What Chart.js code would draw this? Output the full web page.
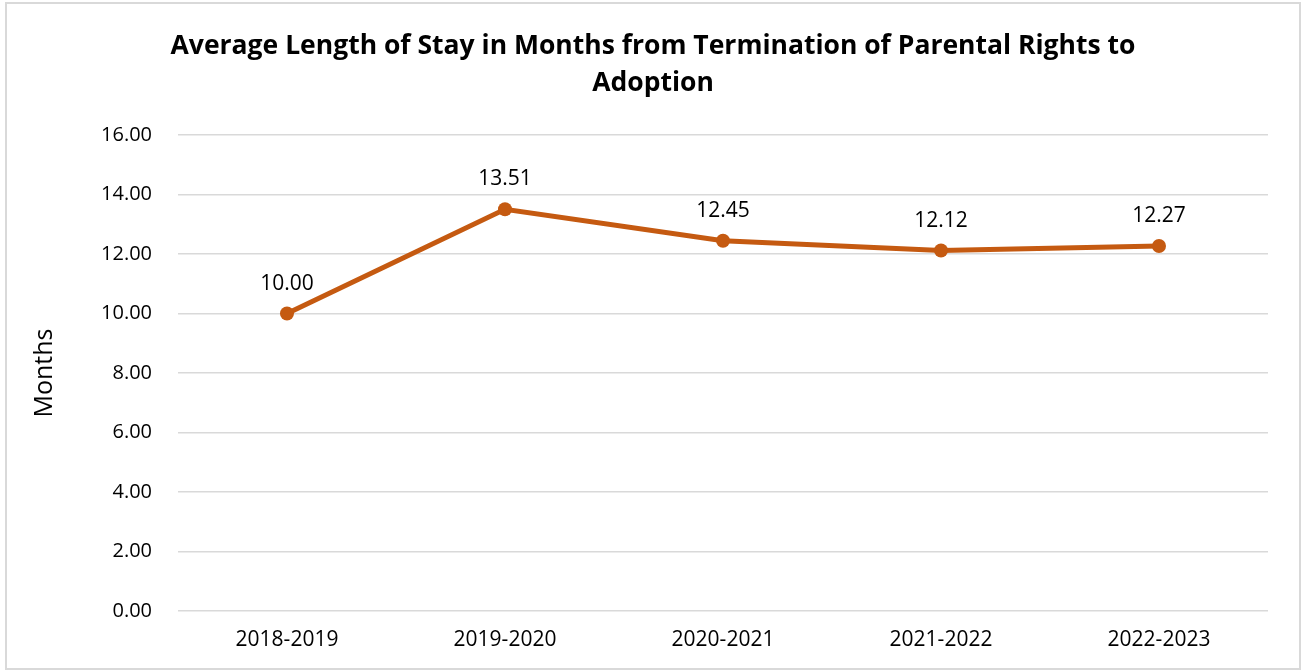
<!DOCTYPE html>
<html>
<head>
<meta charset="utf-8">
<script src="https://cdn.jsdelivr.net/npm/chart.js@4"></script>
<style>
    html, body { margin: 0; padding: 0; background: #ffffff; }
    #wrap { position: relative; width: 1302px; height: 671px; }
</style>
</head>
<body>
<div id="wrap"><canvas id="chart" width="1302" height="671"></canvas></div>
<script>
const years = ['2018-2019', '2019-2020', '2020-2021', '2021-2022', '2022-2023']
const avgMonths = [10.00, 13.51, 12.45, 12.12, 12.27]
const titleLines = ['Average Length of Stay in Months from Termination of Parental Rights to', 'Adoption']

const lineColor = '#C55A11'
const fontFamily = '"Open Sans", "Noto Sans", sans-serif'

// frame around the whole picture
const framePlugin = {
    id: 'frame',
    beforeDraw: (chart) => {
        const {ctx} = chart
        ctx.save()
        ctx.fillStyle = '#ffffff'
        ctx.fillRect(0, 0, chart.width, chart.height)
        ctx.strokeStyle = '#d9d9d9'
        ctx.lineWidth = 2
        ctx.strokeRect(6, 3, 1294, 666)
        ctx.restore()
    }
}

// value labels above each point
const valueLabels = {
    id: 'valueLabels',
    afterDatasetsDraw: (chart) => {
        const {ctx} = chart
        const meta = chart.getDatasetMeta(0)
        ctx.save()
        ctx.font = '21px ' + fontFamily
        ctx.fillStyle = '#000000'
        ctx.textAlign = 'center'
        ctx.textBaseline = 'middle'
        meta.data.forEach((pt, i) => {
            ctx.fillText(avgMonths[i].toFixed(2), pt.x, pt.y - 30)
        })
        ctx.restore()
    }
}

new Chart(document.getElementById('chart'), {
    type: 'line',
    data: {
        labels: years,
        datasets: [
            {
                data: avgMonths,
                borderColor: lineColor,
                backgroundColor: lineColor,
                borderWidth: 5,
                pointRadius: 7,
                pointHoverRadius: 7,
                pointBorderWidth: 0,
                tension: 0,
            }
        ]
    },
    options: {
        responsive: false,
        animation: false,
        layout: {
            padding: { left: 6, right: 2, top: 0, bottom: 1 }
        },
        plugins: {
            legend: { display: false },
            tooltip: { enabled: false },
            title: {
                display: true,
                text: titleLines,
                color: '#000000',
                font: { family: fontFamily, size: 26.5, weight: 'bold', lineHeight: 1.4 },
                padding: { top: 28, bottom: 33 }
            }
        },
        scales: {
            x: {
                offset: true,
                grid: { display: false, drawTicks: false },
                border: { display: false },
                ticks: {
                    color: '#000000',
                    padding: 17,
                    font: { family: fontFamily, size: 21 }
                }
            },
            y: {
                min: 0,
                max: 16,
                afterFit: (scale) => { scale.width = 172 },
                grid: { color: '#d9d9d9', lineWidth: 1.5, drawTicks: false },
                border: { display: false },
                ticks: {
                    stepSize: 2,
                    color: '#000000',
                    padding: 26,
                    font: { family: fontFamily, size: 20 },
                    callback: (v) => Number(v).toFixed(2)
                },
                title: {
                    display: true,
                    text: 'Months',
                    color: '#000000',
                    font: { family: fontFamily, size: 25 },
                    padding: { top: 24, bottom: 0 }
                }
            },
            // empty right-hand axis, only keeps the plot off the right edge
            yRight: {
                position: 'right',
                afterFit: (scale) => { scale.width = 32 },
                grid: { display: false, drawTicks: false },
                border: { display: false },
                ticks: { display: false }
            }
        }
    },
    plugins: [framePlugin, valueLabels]
})
</script>
</body>
</html>
